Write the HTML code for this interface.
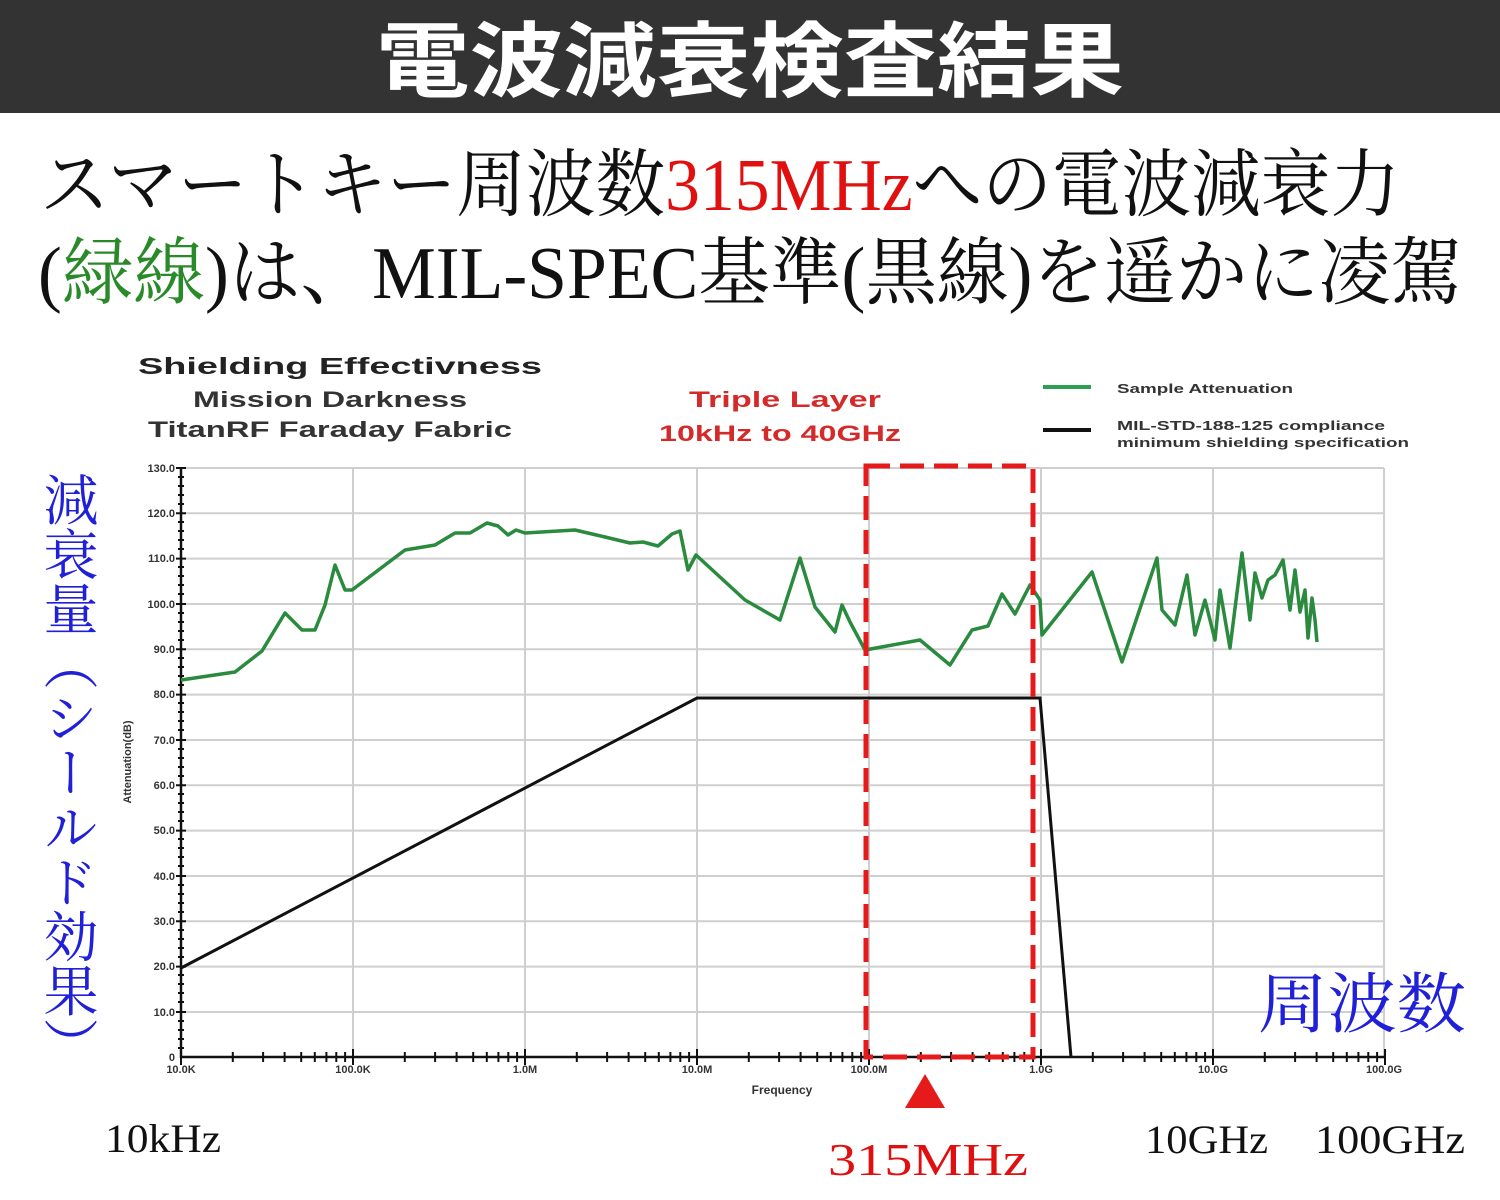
<!DOCTYPE html>
<html><head><meta charset="utf-8"><style>html,body{margin:0;padding:0;background:#fff}svg{display:block}</style></head>
<body>
<svg width="1500" height="1200" xmlns="http://www.w3.org/2000/svg" font-family="'Liberation Sans','Noto Sans CJK JP',sans-serif">
<rect x="0" y="0" width="1500" height="1200" fill="#fff"/>
<rect x="0" y="0" width="1500" height="113" fill="#333"/>
<text x="750" y="90" text-anchor="middle" font-size="82" font-weight="bold" fill="#fff" textLength="748" lengthAdjust="spacingAndGlyphs">電波減衰検査結果</text>
<g font-family="'Liberation Serif','Noto Serif CJK SC',serif" font-size="74" fill="#111">
<text x="40" y="210" textLength="1360" lengthAdjust="spacingAndGlyphs">スマートキー周波数<tspan fill="#e01010">315MHz</tspan>への電波減衰力</text>
<text x="38" y="298" textLength="1424" lengthAdjust="spacingAndGlyphs">(<tspan fill="#2a8a2a">緑線</tspan>)は、MIL-SPEC基準(黒線)を遥かに凌駕</text>
</g>
<g font-weight="bold">
<text x="138" y="374" font-size="23" fill="#222" textLength="404" lengthAdjust="spacingAndGlyphs">Shielding Effectivness</text>
<text x="193" y="407" font-size="22" fill="#333" textLength="274" lengthAdjust="spacingAndGlyphs">Mission Darkness</text>
<text x="148" y="437" font-size="22" fill="#333" textLength="364" lengthAdjust="spacingAndGlyphs">TitanRF Faraday Fabric</text>
<text x="689" y="407" font-size="22" fill="#d42a2a" textLength="192" lengthAdjust="spacingAndGlyphs">Triple Layer</text>
<text x="659" y="441" font-size="22" fill="#d42a2a" textLength="242" lengthAdjust="spacingAndGlyphs">10kHz to 40GHz</text>
<rect x="1043" y="385" width="48" height="4" fill="#2aa050"/>
<text x="1117" y="393" font-size="13" fill="#333" textLength="176" lengthAdjust="spacingAndGlyphs">Sample Attenuation</text>
<rect x="1043" y="428" width="48" height="4" fill="#111"/>
<text x="1117" y="430" font-size="13" fill="#333" textLength="268" lengthAdjust="spacingAndGlyphs">MIL-STD-188-125 compliance</text>
<text x="1117" y="447" font-size="13" fill="#333" textLength="292" lengthAdjust="spacingAndGlyphs">minimum shielding specification</text>
</g>
<g stroke="#cfcfcf" stroke-width="2">
<line x1="181" y1="468" x2="1384" y2="468"/><line x1="181" y1="513.3" x2="1384" y2="513.3"/>
<line x1="181" y1="558.6" x2="1384" y2="558.6"/><line x1="181" y1="604" x2="1384" y2="604"/>
<line x1="181" y1="649.3" x2="1384" y2="649.3"/><line x1="181" y1="694.6" x2="1384" y2="694.6"/>
<line x1="181" y1="740" x2="1384" y2="740"/><line x1="181" y1="785.3" x2="1384" y2="785.3"/>
<line x1="181" y1="830.6" x2="1384" y2="830.6"/><line x1="181" y1="876" x2="1384" y2="876"/>
<line x1="181" y1="921.3" x2="1384" y2="921.3"/><line x1="181" y1="966.6" x2="1384" y2="966.6"/>
<line x1="181" y1="1012" x2="1384" y2="1012"/>
<line x1="353" y1="468" x2="353" y2="1057"/><line x1="525" y1="468" x2="525" y2="1057"/>
<line x1="697" y1="468" x2="697" y2="1057"/><line x1="869" y1="468" x2="869" y2="1057"/>
<line x1="1041" y1="468" x2="1041" y2="1057"/><line x1="1213" y1="468" x2="1213" y2="1057"/>
<line x1="1384" y1="468" x2="1384" y2="1057"/>
</g>
<g stroke="#111" stroke-width="2.5">
<line x1="181" y1="468" x2="181" y2="1058"/><line x1="180" y1="1057" x2="1386" y2="1057"/>
</g>
<g stroke="#111" stroke-width="2">
<path d="M176 468h10M176 513.3h10M176 558.6h10M176 604h10M176 649.3h10M176 694.6h10M176 740h10M176 785.3h10M176 830.6h10M176 876h10M176 921.3h10M176 966.6h10M176 1012h10"/>
<path d="M178 477h6M178 486h6M178 495h6M178 504h6M178 522h6M178 531h6M178 540h6M178 549h6M178 567h6M178 576h6M178 585h6M178 594h6M178 613h6M178 622h6M178 631h6M178 640h6M178 658h6M178 667h6M178 676h6M178 685h6M178 703h6M178 712h6M178 721h6M178 730h6M178 749h6M178 758h6M178 767h6M178 776h6M178 794h6M178 803h6M178 812h6M178 821h6M178 839h6M178 848h6M178 857h6M178 866h6M178 885h6M178 894h6M178 903h6M178 912h6M178 930h6M178 939h6M178 948h6M178 957h6M178 975h6M178 984h6M178 993h6M178 1002h6M178 1021h6M178 1030h6M178 1039h6M178 1048h6"/>
</g>
<g stroke="#111" stroke-width="2" fill="none" id="xt"></g>
<g font-size="11" font-weight="bold" fill="#333" text-anchor="end">
<text x="175" y="472">130.0</text><text x="175" y="517">120.0</text><text x="175" y="562">110.0</text>
<text x="175" y="608">100.0</text><text x="175" y="653">90.0</text><text x="175" y="698">80.0</text>
<text x="175" y="744">70.0</text><text x="175" y="789">60.0</text><text x="175" y="834">50.0</text>
<text x="175" y="880">40.0</text><text x="175" y="925">30.0</text><text x="175" y="970">20.0</text>
<text x="175" y="1016">10.0</text><text x="175" y="1061">0</text>
</g>
<text transform="translate(131,762) rotate(-90)" text-anchor="middle" font-size="11" font-weight="bold" fill="#333">Attenuation(dB)</text>
<g font-size="11" font-weight="bold" fill="#333" text-anchor="middle">
<text x="181" y="1073">10.0K</text><text x="353" y="1073">100.0K</text><text x="525" y="1073">1.0M</text>
<text x="697" y="1073">10.0M</text><text x="869" y="1073">100.0M</text><text x="1041" y="1073">1.0G</text>
<text x="1213" y="1073">10.0G</text><text x="1384" y="1073">100.0G</text>
<text x="782" y="1094" font-size="12">Frequency</text>
</g>
<polyline fill="none" stroke="#111" stroke-width="3" points="181,968 697,698 1040,698 1071,1057"/>
<polyline fill="none" stroke="#2a8a3e" stroke-width="3.5" stroke-linejoin="round" points="181,680 235,672 262,651 285,613 302,630 315,630 325,605 335,565 345,590 352,590 405,550 435,545 455,533 470,533 487,523 498,526 508,535 516,530 525,533 575,530 605,537 630,543 643,542 658,546 672,534 680,531 688,570 696,555 745,600 780,620 800,558 815,607 835,632 842,605 850,622 865,650 920,640 950,665 972,630 988,626 1002,594 1015,614 1030,585 1040,600 1042,635 1092,572 1122,662 1157,558 1162,610 1175,625 1187,575 1195,635 1205,600 1215,640 1220,590 1230,648 1242,553 1250,620 1255,573 1262,598 1268,580 1275,575 1283,560 1290,610 1295,570 1300,612 1305,590 1308,638 1312,598 1315,620 1317,642"/>
<rect x="866" y="466" width="167" height="591" fill="none" stroke="#e51a1a" stroke-width="5" stroke-dasharray="24,10"/>
<polygon points="925,1074 905,1108 945,1108" fill="#e51a1a"/>
<g font-family="'Liberation Serif','Noto Serif CJK SC',serif">
<text x="66" y="472" font-size="55" fill="#2020d8" style="writing-mode:vertical-rl" textLength="600" lengthAdjust="spacingAndGlyphs">減衰量（シールド効果）</text>
<text x="1258" y="1027" font-size="66" fill="#2020d8" textLength="208" lengthAdjust="spacingAndGlyphs">周波数</text>
<text x="105" y="1152" font-size="40" fill="#111" textLength="116" lengthAdjust="spacingAndGlyphs">10kHz</text>
<text x="828" y="1175" font-size="46" fill="#e01010" textLength="200" lengthAdjust="spacingAndGlyphs">315MHz</text>
<text x="1145" y="1153" font-size="40" fill="#111" textLength="123" lengthAdjust="spacingAndGlyphs">10GHz</text>
<text x="1315" y="1153" font-size="40" fill="#111" textLength="150" lengthAdjust="spacingAndGlyphs">100GHz</text>
</g>
</svg>
<script>
(function(){var g=document.getElementById('xt'),d='';for(var dec=0;dec<7;dec++){for(var k=1;k<=10;k++){var x=181+172*(dec+Math.log10(k));var h=(k==1||k==10)?8:5;d+='M'+x.toFixed(1)+' '+(1057-h)+'v'+(2*h);}}g.innerHTML='<path d="'+d+'"/>';})();
</script>
</body></html>
